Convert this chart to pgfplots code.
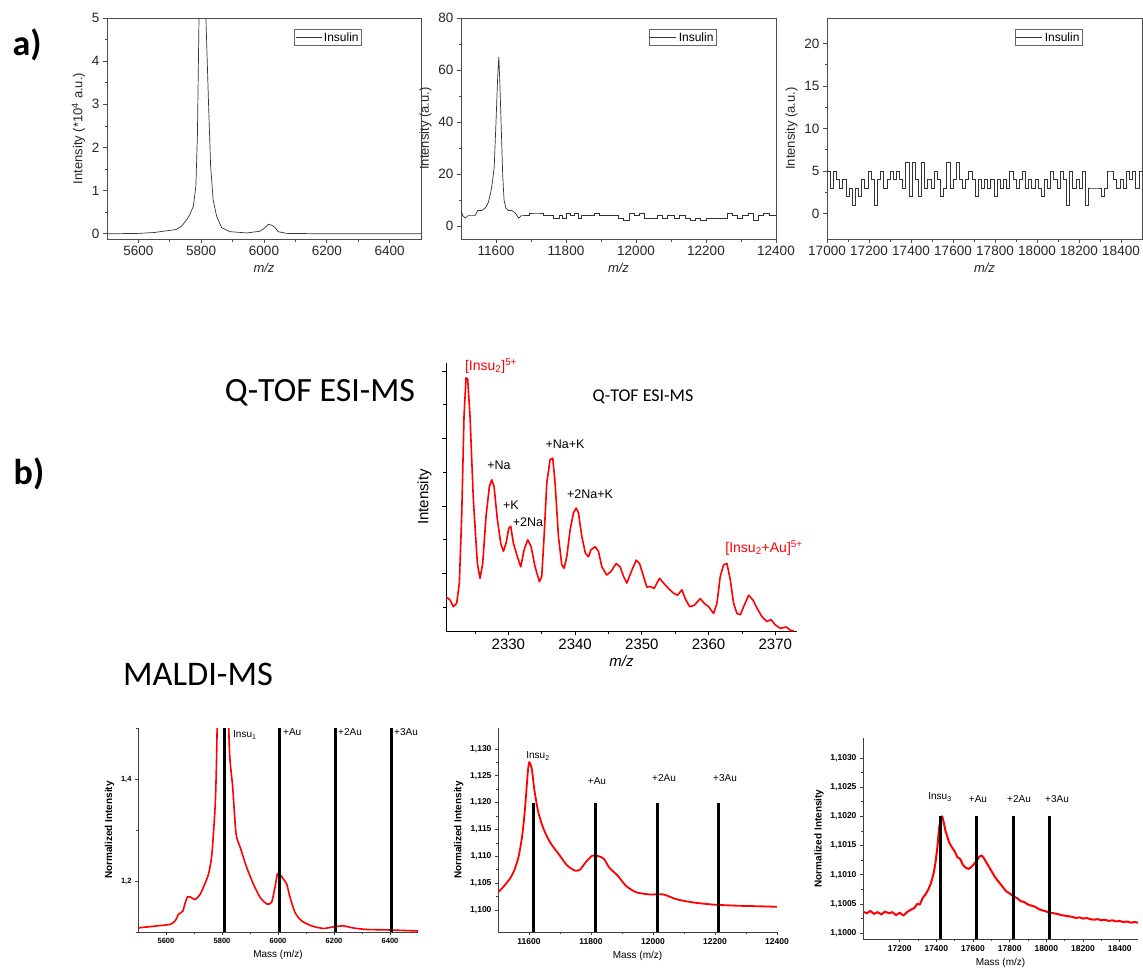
\documentclass[border=0pt]{standalone}
\usepackage{pgfplots}
\pgfplotsset{compat=1.18}
\usepackage{fontspec}
\setmainfont{Liberation Sans}
\newfontfamily\carlito{Carlito}

\pgfplotsset{
  scaled x ticks=false, scaled y ticks=false,
  apanel/.style={scale only axis, width=315pt, height=221pt, anchor=south west,
    axis line style={black!70, line width=0.8pt},
    tick style={black!70, line width=0.8pt}, tick align=outside, xtick pos=left, ytick pos=left,
    major tick length=4pt, minor tick length=2.5pt,
    /pgf/number format/assume math mode=true,
    /pgf/number format/1000 sep={},
    tick label style={font=\fontsize{13.5}{15}\selectfont, text=black!85},
    label style={font=\fontsize{13}{15}\selectfont, text=black!85},
    xlabel={\itshape m/z},
    legend style={draw=black!60, line width=0.6pt, font=\fontsize{12}{13}\selectfont, inner sep=1pt, at={(0.812,0.95)}, anchor=north east},
    legend image code/.code={\draw[##1] (0pt,0pt) -- (26pt,0pt);},
  },
  mpanel/.style={scale only axis, anchor=south west, axis x line*=bottom, axis y line*=left,
    axis line style={black!75, line width=0.8pt}, tick style={black!75, line width=0.7pt},
    tick align=outside, major tick length=3pt, minor tick length=2pt,
    /pgf/number format/assume math mode=true,
    x tick label style={/pgf/number format/1000 sep={}},
    xlabel={Mass (m/z)}, ylabel={\bfseries Normalized Intensity},
    label style={font=\fontsize{10}{12}\selectfont},
  },
}

\begin{document}
\begin{tikzpicture}
\useasboundingbox (0,0) rectangle (1143pt,-974pt);

% ---------- a1 ----------
\begin{axis}[apanel, at={(107pt,-239pt)}, width=314pt,
  xmin=5500, xmax=6500, ymin=-0.12, ymax=5,
  xtick={5600,5800,...,6400}, minor x tick num=1,
  ytick={0,1,2,3,4,5}, minor y tick num=1,
  ylabel={Intensity (*10\textsuperscript{4} a.u.)}]
\addplot[black!80, line width=0.7pt] coordinates {
(5500,0) (5600,0.01) (5650,0.03) (5700,0.08) (5720,0.10) (5738,0.18) (5754,0.33)
(5764,0.45) (5775,0.64) (5783,1.1) (5788,2.3) (5793,5.0) (5800,9) (5806,12) (5812,8)
(5815,5.0) (5823,3.1) (5830,1.57) (5838,0.79) (5849,0.41) (5865,0.14) (5892,0.05)
(5945,0.02) (5987,0.06) (6003,0.14) (6014,0.22) (6024,0.20) (6035,0.15) (6045,0.05)
(6072,0.01) (6200,0) (6500,0)};
\addlegendentry{Insulin}
\end{axis}

% ---------- a2 ----------
\begin{axis}[apanel, at={(461pt,-239pt)},
  xmin=11500, xmax=12400, ymin=-5, ymax=80,
  xtick={11600,11800,...,12400}, minor x tick num=1,
  ytick={0,20,...,80}, minor y tick num=1,
  ylabel={Intensity (a.u.)}]
\addplot[black!80, line width=0.7pt] coordinates {
(11500,6) (11505,4) (11512,3) (11520,4) (11530,4) (11540,4) (11548,6) (11560,6)
(11570,7) (11578,9) (11585,13) (11590,17) (11595,23) (11600,40) (11605,58) (11608,65)
(11611,55) (11615,38) (11619,20) (11623,10) (11628,7) (11635,6) (11645,6) (11655,5)
(11665,3) (11672,4) (11680,4)};
\addlegendentry{Insulin}
\addplot[black!80, line width=0.7pt, const plot, forget plot] coordinates {
(11680,4) (11695,5) (11715,5) (11735,4) (11750,4) (11765,3)
(11780,4) (11790,3) (11800,5) (11812,4) (11825,5) (11835,3) (11845,4) (11860,4)
(11880,5) (11895,4) (11915,4) (11935,4) (11950,3) (11965,2) (11980,5) (11995,4)
(12010,5) (12025,3) (12040,3) (12060,4) (12075,3) (12090,4) (12110,3) (12125,4)
(12140,3) (12155,2) (12170,3) (12185,2) (12200,3) (12220,3) (12240,3) (12260,5)
(12275,4) (12290,3) (12305,4) (12320,5) (12335,2) (12350,4) (12365,5) (12380,4) (12400,4)};
\end{axis}

% ---------- a3 ----------
\begin{axis}[apanel, at={(827pt,-239pt)},
  xmin=17000, xmax=18500, ymin=-3, ymax=23,
  xtick={17000,17200,...,18400}, minor x tick num=1,
  ytick={0,5,...,20}, minor y tick num=1,
  ylabel={Intensity (a.u.)}]
\addplot[black!80, line width=0.7pt, const plot] coordinates {
(17000,5) (17015,3) (17030,5) (17045,4) (17060,3) (17075,4) (17090,2) (17105,3)
(17120,1) (17135,3) (17150,2) (17165,4) (17180,3) (17195,5) (17210,4) (17225,1)
(17240,4) (17255,5) (17270,3) (17285,4) (17300,5) (17315,4) (17330,5) (17345,4)
(17360,3) (17375,6) (17390,2) (17405,6) (17420,4) (17435,2) (17450,6) (17465,3)
(17480,4) (17495,3) (17510,5) (17525,4) (17540,2) (17555,3) (17570,6) (17585,3)
(17600,4) (17615,6) (17630,4) (17645,3) (17660,4) (17675,5) (17690,4) (17705,2)
(17720,4) (17735,3) (17750,4) (17765,3) (17780,4) (17795,2) (17810,4) (17825,3)
(17840,4) (17855,3) (17870,5) (17885,4) (17900,3) (17915,4) (17930,5) (17945,3)
(17960,4) (17975,3) (17990,4) (18005,3) (18020,2) (18035,4) (18050,3) (18065,5)
(18080,4) (18095,3) (18110,5) (18125,4) (18140,1) (18155,5) (18170,3) (18185,4)
(18200,3) (18215,5) (18230,1) (18245,3) (18260,3) (18275,3) (18290,3) (18305,2)
(18320,3) (18335,5) (18350,5) (18365,4) (18380,3) (18395,4) (18410,3) (18425,5)
(18440,4) (18455,5) (18470,3) (18485,5) (18500,4)};
\addlegendentry{Insulin}
\end{axis}

% ---------- ESI ----------
\begin{axis}[scale only axis, width=351pt, height=268pt, at={(446pt,-631pt)}, anchor=south west,
  axis x line*=bottom, axis y line*=left,
  axis line style={black, line width=0.9pt}, tick style={black, line width=0.8pt},
  tick align=outside, major tick length=4pt, minor tick length=3pt,
  xmin=2320.65, xmax=2373.25, ymin=-0.85, ymax=3.12,
  xtick={2330,2340,...,2370}, minor xtick={2325,2335,2345,2355,2365},
  ytick={0,1,2,3}, yticklabels={}, minor ytick={-0.5,0.5,1.5,2.5},
  /pgf/number format/assume math mode=true, /pgf/number format/1000 sep={},
  tick label style={font=\fontsize{15}{17}\selectfont},
  label style={font=\fontsize{15}{17}\selectfont},
  xlabel={\itshape m/z}, ylabel={Intensity}]
\addplot[red, line width=1.6pt, line join=round] coordinates {
(2320.65,-0.34) (2321.25,-0.39) (2321.75,-0.49) (2322.25,-0.44) (2322.65,-0.14)
(2323.0,0.85) (2323.35,2.33) (2323.65,2.90) (2323.9,2.88) (2324.25,2.33) (2324.75,1.09)
(2325.35,0.15) (2325.75,-0.07) (2326.15,0.15) (2326.65,0.85) (2327.15,1.29) (2327.5,1.39)
(2327.85,1.29) (2328.35,0.80) (2328.85,0.45) (2329.25,0.33) (2329.65,0.45) (2330.05,0.67)
(2330.35,0.70) (2330.75,0.45) (2331.35,0.25) (2331.85,0.10) (2332.35,0.35) (2332.9,0.50)
(2333.4,0.40) (2334.0,0.10) (2334.65,-0.12) (2335.0,-0.04) (2335.35,0.55) (2335.75,1.34)
(2336.25,1.69) (2336.65,1.71) (2337.0,1.34) (2337.5,0.55) (2338.0,0.13) (2338.35,0.08)
(2338.75,0.25) (2339.25,0.65) (2339.75,0.90) (2340.15,0.97) (2340.5,0.90) (2341.0,0.55)
(2341.55,0.30) (2342.0,0.25) (2342.35,0.35) (2343.0,0.40) (2343.5,0.33) (2344.0,0.10)
(2344.75,-0.02) (2345.35,0.03) (2346.15,0.15) (2346.75,0.10) (2347.25,-0.04) (2347.75,-0.14)
(2348.5,0.05) (2349.15,0.20) (2349.65,0.15) (2350.25,-0.04) (2350.75,-0.20) (2351.25,-0.19)
(2351.85,-0.22) (2352.25,-0.14) (2352.65,-0.07) (2353.25,-0.14) (2354.0,-0.22) (2354.75,-0.29)
(2355.35,-0.32) (2356.0,-0.24) (2356.5,-0.37) (2357.15,-0.49) (2357.85,-0.47) (2358.75,-0.37)
(2359.35,-0.44) (2360.0,-0.49) (2360.75,-0.59) (2361.25,-0.44) (2361.75,-0.04) (2362.25,0.13)
(2362.75,0.15) (2363.25,-0.09) (2363.75,-0.44) (2364.25,-0.59) (2364.75,-0.61) (2365.25,-0.49)
(2366.0,-0.32) (2366.65,-0.39) (2367.25,-0.51) (2368.0,-0.64) (2368.75,-0.71) (2369.35,-0.68)
(2370.0,-0.76) (2370.75,-0.81) (2371.65,-0.79) (2372.25,-0.84) (2372.75,-0.85)};
\end{axis}

% ---------- MALDI 1 ----------
\begin{axis}[mpanel, at={(138pt,-932pt)}, width=280pt, height=204pt,
  xmin=5500, xmax=6500, ymin=1.1, ymax=1.5,
  xtick={5600,5800,...,6400}, minor x tick num=1,
  ytick={1.2,1.4}, minor ytick={1.1,1.3,1.5},
  y tick label style={/pgf/number format/use comma, /pgf/number format/fixed, /pgf/number format/fixed zerofill, /pgf/number format/precision=1},
  tick label style={font=\fontsize{7.5}{9}\selectfont\bfseries}]
\addplot[red, line width=1.6pt, smooth, tension=0.4] coordinates {
(5500,1.108) (5568,1.112) (5615,1.115) (5633,1.122) (5645,1.135) (5660,1.141) (5669,1.158)
(5677,1.169) (5686,1.169) (5704,1.164) (5722,1.174) (5736,1.191) (5752,1.214) (5764,1.253)
(5776,1.352) (5781,1.451) (5786,1.6) (5800,1.9) (5812,1.9) (5820,1.6) (5827,1.451) (5838,1.385)
(5850,1.293) (5865,1.266) (5888,1.227) (5912,1.194) (5936,1.168) (5960,1.155) (5977,1.158)
(5989,1.187) (5998,1.214) (6007,1.213) (6019,1.204) (6031,1.194) (6043,1.168) (6061,1.138)
(6084,1.122) (6120,1.112) (6162,1.107) (6197,1.110) (6233,1.112) (6268,1.108) (6316,1.105)
(6399,1.104) (6500,1.102)};
\addplot[black, line width=3pt] coordinates {(5808,1.1) (5808,1.5)};
\addplot[black, line width=3pt] coordinates {(6005,1.1) (6005,1.5)};
\addplot[black, line width=3pt] coordinates {(6205,1.1) (6205,1.5)};
\addplot[black, line width=3pt] coordinates {(6405,1.1) (6405,1.5)};
\end{axis}

% ---------- MALDI 2 ----------
\begin{axis}[mpanel, at={(498pt,-932pt)}, width=279pt, height=204pt,
  xmin=11500, xmax=12400, ymin=1.0959, ymax=1.1339,
  xtick={11600,11800,...,12400}, minor x tick num=1,
  ytick={1.1,1.105,1.11,1.115,1.12,1.125,1.13}, minor y tick num=1,
  y tick label style={/pgf/number format/use comma, /pgf/number format/fixed, /pgf/number format/fixed zerofill, /pgf/number format/precision=3},
  tick label style={font=\fontsize{8.5}{10}\selectfont\bfseries}]
\addplot[red, line width=1.8pt, smooth, tension=0.4] coordinates {
(11500,1.1033) (11511,1.1039) (11538,1.1058) (11554,1.1076) (11567,1.1101) (11578,1.1138)
(11587,1.1188) (11596,1.1256) (11601,1.1275) (11609,1.1263) (11617,1.1225) (11630,1.1182)
(11647,1.1151) (11668,1.1126) (11696,1.1104) (11723,1.1083) (11750,1.1073) (11766,1.1076)
(11783,1.1089) (11804,1.1101) (11826,1.1100) (11842,1.1095) (11859,1.1079) (11886,1.1064)
(11913,1.1045) (11946,1.1033) (11989,1.1029) (12033,1.1029) (12076,1.1020) (12130,1.1014)
(12196,1.1010) (12272,1.1008) (12337,1.1007) (12400,1.1006)};
\addplot[black, line width=3pt] coordinates {(11616,1.0959) (11616,1.12)};
\addplot[black, line width=3pt] coordinates {(11813,1.0959) (11813,1.12)};
\addplot[black, line width=3pt] coordinates {(12013,1.0959) (12013,1.12)};
\addplot[black, line width=3pt] coordinates {(12210,1.0959) (12210,1.12)};
\end{axis}

% ---------- MALDI 3 ----------
\begin{axis}[mpanel, at={(863pt,-939pt)}, width=275pt, height=201pt,
  xmin=17000, xmax=18500, ymin=1.0999, ymax=1.10334,
  xtick={17200,17400,...,18400}, minor x tick num=1,
  ytick={1.1,1.1005,1.101,1.1015,1.102,1.1025,1.103}, minor y tick num=1,
  y tick label style={/pgf/number format/use comma, /pgf/number format/fixed, /pgf/number format/fixed zerofill, /pgf/number format/precision=4},
  tick label style={font=\fontsize{8.5}{10}\selectfont\bfseries}]
\addplot[red, line width=2pt, line join=round] coordinates {
(17000,1.10037) (17020,1.10034) (17040,1.10038) (17060,1.10033) (17080,1.10036) (17100,1.10032)
(17120,1.10037) (17140,1.10034) (17160,1.10036) (17180,1.10031) (17200,1.10035) (17220,1.10030)
(17240,1.10036) (17260,1.10040) (17280,1.10043) (17295,1.10050) (17310,1.10049) (17325,1.10060)
(17340,1.10066) (17355,1.10074) (17370,1.10085) (17385,1.10102) (17395,1.10120) (17405,1.10145)
(17415,1.10180) (17425,1.10198) (17432,1.10200) (17440,1.10190) (17450,1.10175) (17460,1.10165)
(17470,1.10155) (17485,1.10147) (17500,1.10140) (17515,1.10130) (17530,1.10127) (17545,1.10117)
(17560,1.10112) (17575,1.10110) (17590,1.10113) (17605,1.10118) (17620,1.10124) (17635,1.10131)
(17648,1.10133) (17660,1.10128) (17675,1.10120) (17690,1.10112) (17705,1.10104) (17720,1.10096)
(17740,1.10088) (17760,1.10080) (17780,1.10072) (17800,1.10068) (17820,1.10063) (17840,1.10060)
(17860,1.10055) (17880,1.10053) (17900,1.10049) (17920,1.10047) (17940,1.10045) (17960,1.10041)
(17980,1.10039) (18000,1.10037) (18020,1.10035) (18040,1.10034) (18060,1.10033) (18080,1.10031)
(18100,1.10030) (18120,1.10029) (18140,1.10028) (18160,1.10026) (18180,1.10027) (18200,1.10025)
(18220,1.10026) (18240,1.10024) (18260,1.10023) (18280,1.10024) (18300,1.10022) (18320,1.10023)
(18340,1.10021) (18360,1.10022) (18380,1.10020) (18400,1.10021) (18420,1.10019) (18440,1.10020)
(18460,1.10018) (18480,1.10019) (18500,1.10018)};
\addplot[black, line width=3pt] coordinates {(17424,1.0999) (17424,1.1020)};
\addplot[black, line width=3pt] coordinates {(17620,1.0999) (17620,1.1020)};
\addplot[black, line width=3pt] coordinates {(17820,1.0999) (17820,1.1020)};
\addplot[black, line width=3pt] coordinates {(18015,1.0999) (18015,1.1020)};
\end{axis}

% ---------- texts ----------
\node[font=\carlito\bfseries\fontsize{36}{38}\selectfont] at (27pt,-45pt) {a)};
\node[font=\carlito\bfseries\fontsize{36}{38}\selectfont] at (29pt,-474pt) {b)};
\node[font=\carlito\fontsize{34}{36}\selectfont] at (320pt,-393pt) {Q-TOF ESI-MS};
\node[font=\carlito\fontsize{34.5}{36}\selectfont] at (198pt,-674pt) {MALDI-MS};

\begin{scope}[every node/.style={font=\fontsize{12.5}{14}\selectfont}]
\node[red, font=\fontsize{14}{16}\selectfont] at (491pt,-366pt) {[Insu\textsubscript{2}]\textsuperscript{5+}};
\node[font=\carlito\fontsize{18}{20}\selectfont] at (643pt,-397pt) {Q-TOF ESI-MS};
\node at (499pt,-465pt) {+Na};
\node at (511pt,-505pt) {+K};
\node at (528pt,-522pt) {+2Na};
\node at (565pt,-444pt) {+Na+K};
\node at (590pt,-494pt) {+2Na+K};
\node[red, font=\fontsize{14}{16}\selectfont] at (764pt,-548pt) {[Insu\textsubscript{2}+Au]\textsuperscript{5+}};
\end{scope}

\begin{scope}[every node/.style={font=\fontsize{10}{12}\selectfont, inner sep=1pt}]
\node[anchor=west] at (232pt,-735pt) {Insu\textsubscript{1}};
\node[anchor=west] at (282pt,-732pt) {+Au};
\node[anchor=west] at (337pt,-732pt) {+2Au};
\node[anchor=west] at (393pt,-732pt) {+3Au};
\node at (538pt,-756pt) {Insu\textsubscript{2}};
\node at (597pt,-781pt) {+Au};
\node at (664pt,-778pt) {+2Au};
\node at (725pt,-778pt) {+3Au};
\node at (940pt,-797pt) {Insu\textsubscript{3}};
\node at (978pt,-799pt) {+Au};
\node at (1019pt,-799pt) {+2Au};
\node at (1057pt,-799pt) {+3Au};
\end{scope}
\end{tikzpicture}
\end{document}
